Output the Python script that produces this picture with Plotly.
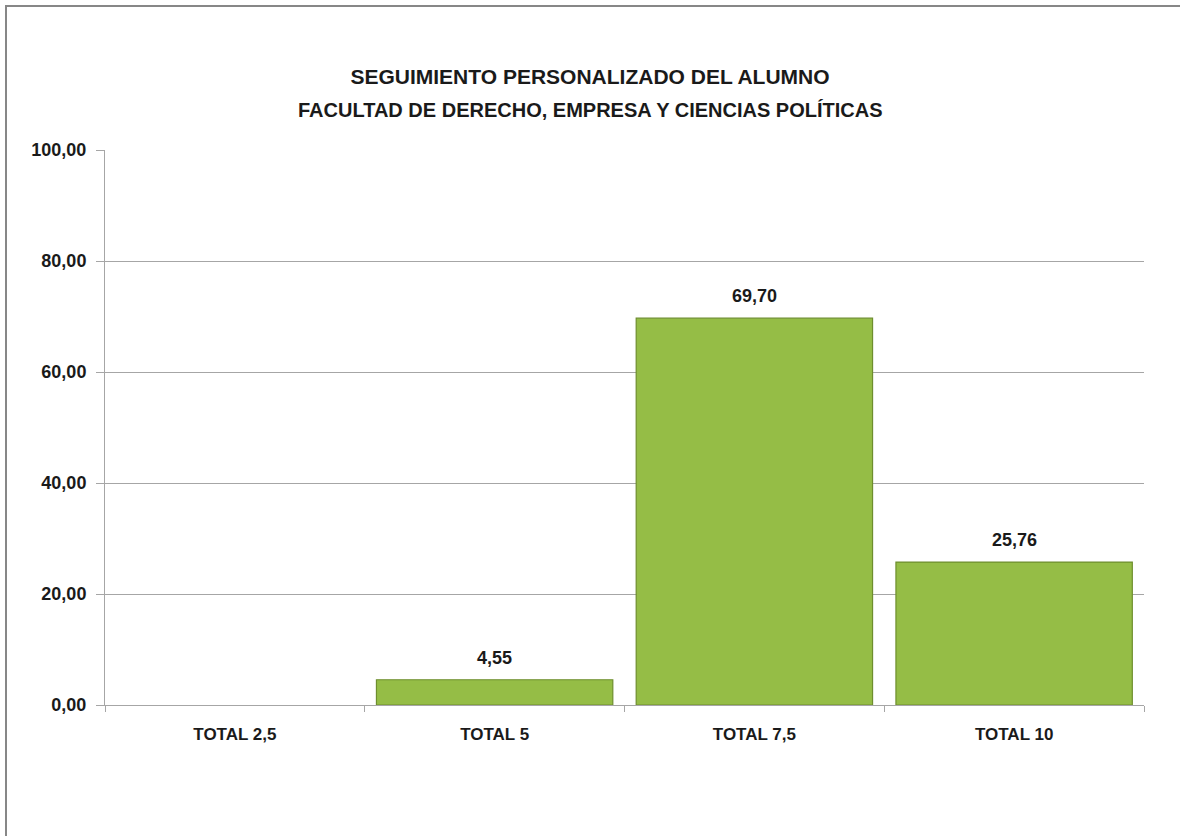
import plotly.graph_objects as go

categories = ["TOTAL 2,5", "TOTAL 5", "TOTAL 7,5", "TOTAL 10"]
values = [0.00, 4.55, 69.70, 25.76]
y_ticks = [0, 20, 40, 60, 80, 100]
title_line1 = "SEGUIMIENTO PERSONALIZADO DEL ALUMNO"
title_line2 = "FACULTAD DE DERECHO, EMPRESA Y CIENCIAS POLÍTICAS"

W, H = 1180, 836
ml, mr, mt, mb = 105, 36, 150, 131
pw, ph = W - ml - mr, H - mt - mb

FONT = "Liberation Sans, Arial, sans-serif"
TXT = "#1a1a1a"

labels = [f"{v:.2f}".replace(".", ",") for v in values]

fig = go.Figure()
fig.add_trace(go.Bar(
    x=categories, y=values,
    marker=dict(color="#95bd46",
                line=dict(color="#6e8e2e", width=[0 if v == 0 else 1.2 for v in values])),
    hoverinfo="x+y",
))

annotations = [dict(text="<b>" + title_line2 + "</b>", xref="paper", yref="paper",
                    x=(590 - ml) / pw, y=1 + (mt - 110) / ph, xanchor="center",
                    yanchor="middle", showarrow=False,
                    font=dict(family=FONT, size=20, color=TXT))]
for c, v, lab in zip(categories, values, labels):
    if v == 0:
        continue
    annotations.append(dict(x=c, y=v, xref="x", yref="y", text="<b>" + lab + "</b>",
                            showarrow=False, yanchor="middle", yshift=22,
                            font=dict(family=FONT, size=18, color=TXT)))

fig.update_layout(
    width=W, height=H,
    margin=dict(l=ml, r=mr, t=mt, b=mb),
    paper_bgcolor="white", plot_bgcolor="white",
    separators=",.",
    bargap=0.09,
    showlegend=False,
    font=dict(family=FONT, color=TXT),
    title=dict(text="<b>" + title_line1 + "</b>", x=0.5, xref="container",
               y=1 - 77 / H, yref="container", yanchor="middle", xanchor="center",
               font=dict(family=FONT, size=21, color=TXT)),
    annotations=annotations,
    shapes=[dict(type="rect", xref="paper", yref="paper",
                 x0=(6 - ml) / pw, x1=1.2, y0=-0.5, y1=1 + (mt - 6) / ph,
                 line=dict(color="#878787", width=2), fillcolor="rgba(0,0,0,0)",
                 layer="below")],
    xaxis=dict(
        showgrid=False, showline=True, linecolor="#a6a6a6", linewidth=1,
        ticks="outside", tickson="boundaries", ticklen=6, tickcolor="#a6a6a6",
        tickfont=dict(family=FONT, size=17, color=TXT, weight="bold"),
        ticklabelstandoff=14,
    ),
    yaxis=dict(
        range=[0, 100], tickvals=y_ticks, tickformat=".2f",
        showgrid=True, gridcolor="#a6a6a6", gridwidth=1,
        showline=True, linecolor="#a6a6a6", linewidth=1,
        ticks="outside", ticklen=8, tickcolor="#a6a6a6",
        tickfont=dict(family=FONT, size=18, color=TXT, weight="bold"),
        ticklabelstandoff=6, zeroline=False,
    ),
)

fig.write_html("out.html", config={"displayModeBar": False},
               post_script="document.body.style.margin='0px';")
